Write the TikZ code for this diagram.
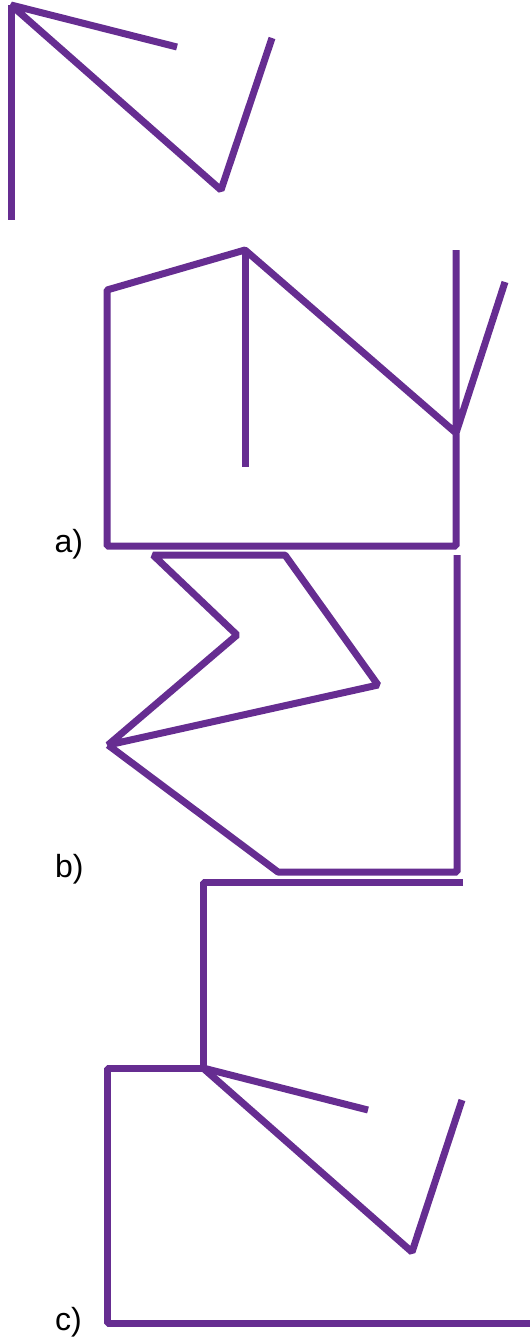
\documentclass[tikz,border=0pt]{standalone}
\usepackage{fontspec}
\setmainfont{Liberation Sans}
\definecolor{stroke}{RGB}{102,45,145}
\begin{document}
\begin{tikzpicture}[x=1pt,y=-1pt,
  edge/.style={draw=stroke,line width=7pt,line join=bevel,line cap=butt},
  lbl/.style={anchor=base west,inner sep=0pt,font=\fontsize{32}{38}\selectfont}]
\useasboundingbox (0,0) rectangle (530,1338);
% top figure
\coordinate (t0) at (11,5);
\coordinate (t1) at (177,47);
\coordinate (t2) at (221,190);
\coordinate (t3) at (272,38);
\coordinate (t4) at (11,220);
\draw[edge] (t1) -- (t0) -- (t2) -- (t3);
\draw[edge] (t0) -- (t4);
% figure a
\coordinate (a1) at (456,250);
\coordinate (a2) at (456,546);
\coordinate (a3) at (107,546);
\coordinate (a4) at (107,290);
\coordinate (a5) at (245,250);
\coordinate (a6) at (456,433);
\coordinate (a7) at (505,282);
\coordinate (a8) at (245,467);
\draw[edge] (a1) -- (a2) -- (a3) -- (a4) -- (a5) -- (a6) -- (a7);
\draw[edge] (a5) -- (a8);
\node[lbl] (la) at (54.5,552) {a)};
% figure b
\coordinate (b1) at (153,555);
\coordinate (b2) at (237,635);
\coordinate (b3) at (108,745);
\coordinate (b4) at (378,685);
\coordinate (b5) at (285,555);
\coordinate (b6) at (278,872);
\coordinate (b7) at (457,872);
\coordinate (b8) at (457,555);
\draw[edge] (b1) -- (b2) -- (b3) -- (b4) -- (b5) -- cycle;
\draw[edge] (b3) -- (b6) -- (b7) -- (b8);
\node[lbl] (lb) at (55,877) {b)};
% figure c
\coordinate (c1) at (463,882);
\coordinate (c2) at (203,882);
\coordinate (c3) at (203,1068);
\coordinate (c4) at (107,1068);
\coordinate (c5) at (107,1323);
\coordinate (c6) at (530,1323);
\coordinate (c7) at (368,1110);
\coordinate (c8) at (412,1252);
\coordinate (c9) at (462,1100);
\draw[edge] (c1) -- (c2) -- (c3) -- (c4) -- (c5) -- (c6);
\draw[edge] (c3) -- (c7);
\draw[edge] (c3) -- (c8) -- (c9);
\node[lbl] (lc) at (55,1330) {c)};
\end{tikzpicture}
\end{document}
